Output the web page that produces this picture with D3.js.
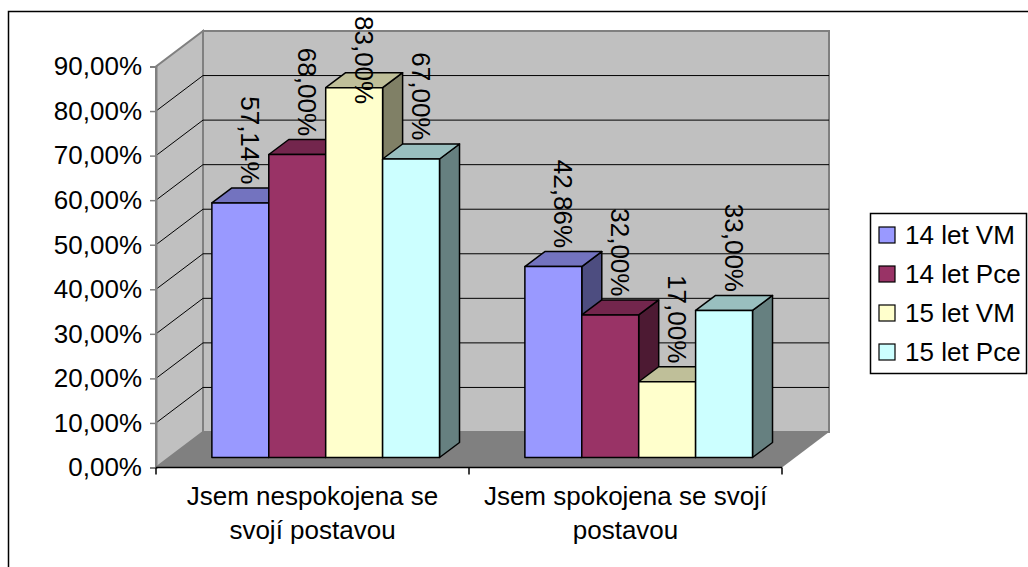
<!DOCTYPE html>
<html>
<head>
<meta charset="utf-8">
<script src="https://cdn.jsdelivr.net/npm/d3@7"></script>
<style>
  html, body { margin: 0; padding: 0; background: #fff; }
  svg { display: block; font-family: Arial, "Liberation Sans", sans-serif; }
</style>
</head>
<body>
<svg id="chart" width="1028" height="567"></svg>
<script>
// Chart data
const categories = ["Jsem nespokojena se svojí postavou", "Jsem spokojena se svojí postavou"];
const categoryLines = [["Jsem nespokojena se", "svojí postavou"], ["Jsem spokojena se svojí", "postavou"]];
const seriesNames = ["14 let VM", "14 let Pce", "15 let VM", "15 let Pce"];
const seriesColors = ["#9999FF", "#993366", "#FFFFCC", "#CCFFFF"];
const values = [
  [57.14, 68.00, 83.00, 67.00],   // Jsem nespokojena se svojí postavou
  [42.86, 32.00, 17.00, 33.00]    // Jsem spokojena se svojí postavou
];
const yTicks = [0, 10, 20, 30, 40, 50, 60, 70, 80, 90];

const fmt = v => v.toFixed(2).replace(".", ",") + "%";

const svg = d3.select("#chart");

// Plot geometry (front plane + oblique depth)
const front = { left: 156, right: 782, bottom: 467.5, top: 66.5 };
const depth = { dx: 47, dy: -35.5 };        // full depth of the floor/walls
const barFront = { dx: 13.2, dy: -10 };     // bar front face offset into the depth
const barDepth = { dx: 20, dy: -15 };       // thickness of each bar

const y = d3.scaleLinear().domain([0, 90]).range([front.bottom, front.top]);
const x0 = d3.scaleBand().domain(categories).range([front.left, front.right]);
const x1 = d3.scaleBand().domain(seriesNames).range([0, x0.bandwidth()])
  .paddingInner(0).paddingOuter(0.75);

const shade = (c, k) => { const r = d3.rgb(c); return d3.rgb(r.r * k, r.g * k, r.b * k).formatHex(); };
const pts = arr => arr.map(p => p.join(",")).join(" ");

// Outer chart border
svg.append("rect")
  .attr("x", 8.5).attr("y", 11.5).attr("width", 1100).attr("height", 600)
  .attr("fill", "#fff").attr("stroke", "#000").attr("stroke-width", 1.5);

const g = svg.append("g");

// Floor
g.append("polygon")
  .attr("points", pts([
    [front.left, y(0)], [front.right, y(0)],
    [front.right + depth.dx, y(0) + depth.dy], [front.left + depth.dx, y(0) + depth.dy]
  ]))
  .attr("fill", "#808080");

// Back wall
g.append("polygon")
  .attr("points", pts([
    [front.left + depth.dx, y(0) + depth.dy], [front.right + depth.dx, y(0) + depth.dy],
    [front.right + depth.dx, y(90) + depth.dy], [front.left + depth.dx, y(90) + depth.dy]
  ]))
  .attr("fill", "#C0C0C0").attr("stroke", "#808080").attr("stroke-width", 2);

// Side wall
g.append("polygon")
  .attr("points", pts([
    [front.left, y(0)], [front.left + depth.dx, y(0) + depth.dy],
    [front.left + depth.dx, y(90) + depth.dy], [front.left, y(90)]
  ]))
  .attr("fill", "#C0C0C0").attr("stroke", "#808080").attr("stroke-width", 2);

// Gridlines on the side and back walls
const grid = yTicks.filter(t => t > 0 && t < 90);
g.selectAll("line.gside").data(grid).join("line")
  .attr("x1", front.left).attr("y1", d => y(d))
  .attr("x2", front.left + depth.dx).attr("y2", d => y(d) + depth.dy)
  .attr("stroke", "#000").attr("stroke-width", 1);
g.selectAll("line.gback").data(grid).join("line")
  .attr("x1", front.left + depth.dx).attr("y1", d => y(d) + depth.dy)
  .attr("x2", front.right + depth.dx).attr("y2", d => y(d) + depth.dy)
  .attr("stroke", "#000").attr("stroke-width", 1);

// Value axis
const yAxis = d3.axisLeft(y).tickValues(yTicks).tickSize(6).tickPadding(8).tickFormat(d => fmt(d));
const ya = svg.append("g").attr("transform", `translate(${front.left},0)`).call(yAxis);
ya.select(".domain").attr("stroke", "#808080").attr("stroke-width", 2);
ya.selectAll(".tick line").attr("stroke", "#808080").attr("stroke-width", 1.5);
ya.selectAll(".tick text").attr("font-size", 26).attr("fill", "#000")
  .attr("font-family", "Arial, 'Liberation Sans', sans-serif");

// Category axis line and ticks
svg.append("line")
  .attr("x1", front.left).attr("x2", front.right)
  .attr("y1", y(0)).attr("y2", y(0))
  .attr("stroke", "#000").attr("stroke-width", 1.5);
const catTicks = [front.left].concat(categories.map(c => x0(c) + x0.bandwidth()));
svg.selectAll("line.ctick").data(catTicks).join("line")
  .attr("x1", d => d).attr("x2", d => d)
  .attr("y1", y(0)).attr("y2", y(0) + 7)
  .attr("stroke", "#000").attr("stroke-width", 1.5);

// Category labels
categories.forEach((c, i) => {
  const t = svg.append("text")
    .attr("x", x0(c) + x0.bandwidth() / 2)
    .attr("text-anchor", "middle").attr("font-size", 26).attr("fill", "#000");
  categoryLines[i].forEach((line, j) => {
    t.append("tspan").attr("x", x0(c) + x0.bandwidth() / 2).attr("y", 505 + j * 34).text(line);
  });
});

// Bars (side, top, front faces), drawn left to right
const bars = svg.append("g");
const labels = svg.append("g");
categories.forEach((c, ci) => {
  seriesNames.forEach((s, si) => {
    const v = values[ci][si];
    const col = seriesColors[si];
    const xl = x0(c) + x1(s) + barFront.dx;
    const xr = xl + x1.bandwidth();
    const yb = y(0) + barFront.dy;
    const yt = y(v) + barFront.dy;
    const bg = bars.append("g").attr("stroke", "#000").attr("stroke-width", 1.5).attr("stroke-linejoin", "round");
    bg.append("polygon")
      .attr("points", pts([[xr, yb], [xr + barDepth.dx, yb + barDepth.dy], [xr + barDepth.dx, yt + barDepth.dy], [xr, yt]]))
      .attr("fill", shade(col, 0.5));
    bg.append("polygon")
      .attr("points", pts([[xl, yt], [xr, yt], [xr + barDepth.dx, yt + barDepth.dy], [xl + barDepth.dx, yt + barDepth.dy]]))
      .attr("fill", shade(col, 0.75));
    bg.append("rect")
      .attr("x", xl).attr("y", yt).attr("width", xr - xl).attr("height", yb - yt)
      .attr("fill", col);

    // Value label, rotated, ending just above the top face
    const lx = (xl + xr) / 2 + barDepth.dx / 2;
    let ly = yt + barDepth.dy / 2 - 11;
    const lt = labels.append("text")
      .attr("font-size", 26).attr("fill", "#000")
      .attr("text-anchor", "end").attr("dominant-baseline", "central")
      .text(fmt(v));
    const len = lt.node().getComputedTextLength();
    if (ly - len < 16) ly = 16 + len;
    lt.attr("transform", `translate(${lx},${ly}) rotate(90)`);
  });
});

// Legend
const legend = svg.append("g");
legend.append("rect")
  .attr("x", 870.5).attr("y", 213.5).attr("width", 156).attr("height", 160)
  .attr("fill", "#fff").attr("stroke", "#000").attr("stroke-width", 1.5);
const ly0 = d3.scalePoint().domain(seriesNames).range([235, 352]);
seriesNames.forEach((s, i) => {
  legend.append("rect")
    .attr("x", 879).attr("y", ly0(s) - 8).attr("width", 16).attr("height", 16)
    .attr("fill", seriesColors[i]).attr("stroke", "#000").attr("stroke-width", 1.2);
  legend.append("text")
    .attr("x", 905).attr("y", ly0(s)).attr("dominant-baseline", "central")
    .attr("font-size", 26).attr("fill", "#000").text(s);
});
</script>
</body>
</html>
